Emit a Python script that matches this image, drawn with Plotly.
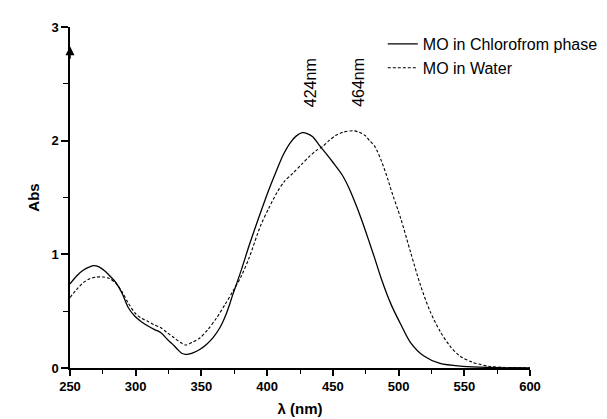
import plotly.graph_objects as go

# Wavelength (nm) and absorbance, MO in chloroform phase
chl_x = [250, 255, 260, 265, 268, 272, 277, 282, 285, 289.5, 294.4, 299.4, 304, 309.3, 314,
         319.2, 324.2, 328, 331.7, 335, 338, 341, 344, 349, 354, 359, 364, 369, 373.8, 380,
         386.3, 395, 401, 407.4, 412, 417.3, 422, 426.7, 430, 434.7, 439, 444.6, 450, 457,
         462, 466.9, 472, 476.9, 482, 486.8, 494.2, 501.7, 509.1, 519, 531.5, 548.8, 568.7, 600]
chl_y = [0.74, 0.81, 0.86, 0.89, 0.90, 0.89, 0.85, 0.79, 0.75, 0.66, 0.53, 0.455, 0.41, 0.37, 0.34,
         0.31, 0.25, 0.21, 0.165, 0.13, 0.12, 0.125, 0.136, 0.165, 0.209, 0.27, 0.354, 0.48, 0.643, 0.85,
         1.078, 1.368, 1.56, 1.745, 1.87, 1.977, 2.04, 2.07, 2.065, 2.035, 1.97, 1.89, 1.81, 1.70,
         1.59, 1.455, 1.30, 1.136, 0.96, 0.788, 0.562, 0.383, 0.223, 0.107, 0.04, 0.015, 0.005, 0.0]

# MO in water
wat_x = [250, 255, 260, 265, 270, 275, 280, 285.7, 289.5, 294.4, 299.4, 304, 309.3, 314, 319.2,
         324, 329.2, 334, 338, 343, 349, 355, 361.5, 368, 373.8, 380, 386.3, 395, 401, 407.4,
         413, 419.8, 426, 432.2, 437, 442.1, 447, 452, 458, 465.3, 470, 474.5, 478, 482, 487,
         491.9, 494.2, 501.8, 509.1, 516.6, 524, 531.5, 539, 546.4, 556.3, 568.7, 581.1, 600]
wat_y = [0.62, 0.69, 0.75, 0.785, 0.80, 0.80, 0.788, 0.736, 0.672, 0.57, 0.484, 0.44, 0.41, 0.38, 0.354,
         0.31, 0.266, 0.225, 0.203, 0.225, 0.266, 0.34, 0.44, 0.56, 0.672, 0.80, 0.97, 1.252, 1.40, 1.542,
         1.64, 1.716, 1.79, 1.861, 1.91, 1.948, 2.0, 2.045, 2.075, 2.087, 2.075, 2.045, 2.0, 1.948, 1.82,
         1.658, 1.571, 1.31, 1.02, 0.73, 0.498, 0.324, 0.194, 0.107, 0.05, 0.015, 0.005, 0.0]

series_names = ["MO in Chlorofrom phase", "MO in Water"]
peak_labels = ["424nm", "464nm"]
x_ticks = [250, 300, 350, 400, 450, 500, 550, 600]
y_ticks = [0, 1, 2, 3]

FONT = "Arial, Liberation Sans, sans-serif"

fig = go.Figure()
fig.add_trace(go.Scatter(x=chl_x, y=chl_y, mode="lines", name=series_names[0],
                         line=dict(color="black", width=1.3, shape="spline", smoothing=0.8)))
fig.add_trace(go.Scatter(x=wat_x, y=wat_y, mode="lines", name=series_names[1],
                         line=dict(color="black", width=1.1, dash="3px,2px", shape="spline", smoothing=0.8)))

fig.add_annotation(x=433, y=2.51, text=peak_labels[0], textangle=-90, showarrow=False,
                   font=dict(family=FONT, size=16, color="black"))
fig.add_annotation(x=470, y=2.51, text=peak_labels[1], textangle=-90, showarrow=False,
                   font=dict(family=FONT, size=16, color="black"))
# arrow on the y axis
fig.add_annotation(x=250, y=2.83, text="", showarrow=True, ax=0, ay=14,
                   arrowhead=2, arrowsize=1.2, arrowwidth=1.5, arrowcolor="black")

fig.update_layout(
    width=607, height=419,
    margin=dict(l=62, r=75, t=19, b=55),
    paper_bgcolor="white", plot_bgcolor="white",
    font=dict(family=FONT, color="black"),
    showlegend=True,
    legend=dict(x=0.68, y=1.0, xanchor="left", yanchor="top",
                font=dict(family=FONT, size=16, color="black"),
                bgcolor="rgba(0,0,0,0)", borderwidth=0, tracegroupgap=0,
                itemwidth=30),
)
fig.update_xaxes(range=[250, 600], tickvals=x_ticks, ticktext=[str(v) for v in x_ticks],
                 showgrid=False, zeroline=False, showline=True, linecolor="black", linewidth=1.5,
                 ticks="outside", ticklen=6, tickwidth=1.5, tickcolor="black",
                 minor=dict(dtick=25, ticks="outside", ticklen=4, tickwidth=1.2, tickcolor="black"),
                 tickfont=dict(family=FONT, size=13, weight="bold"),
                 title=dict(text="λ (nm)", font=dict(family=FONT, size=15, weight="bold"), standoff=10))
fig.update_yaxes(range=[0, 3], tickvals=y_ticks, ticktext=[str(v) for v in y_ticks],
                 showgrid=False, zeroline=False, showline=True, linecolor="black", linewidth=1.5,
                 ticks="outside", ticklen=7, tickwidth=1.5, tickcolor="black",
                 minor=dict(dtick=0.5, ticks="outside", ticklen=5, tickwidth=1.2, tickcolor="black"),
                 tickfont=dict(family=FONT, size=13, weight="bold"),
                 title=dict(text="Abs", font=dict(family=FONT, size=15, weight="bold"), standoff=8))

fig.write_html("out.html")
